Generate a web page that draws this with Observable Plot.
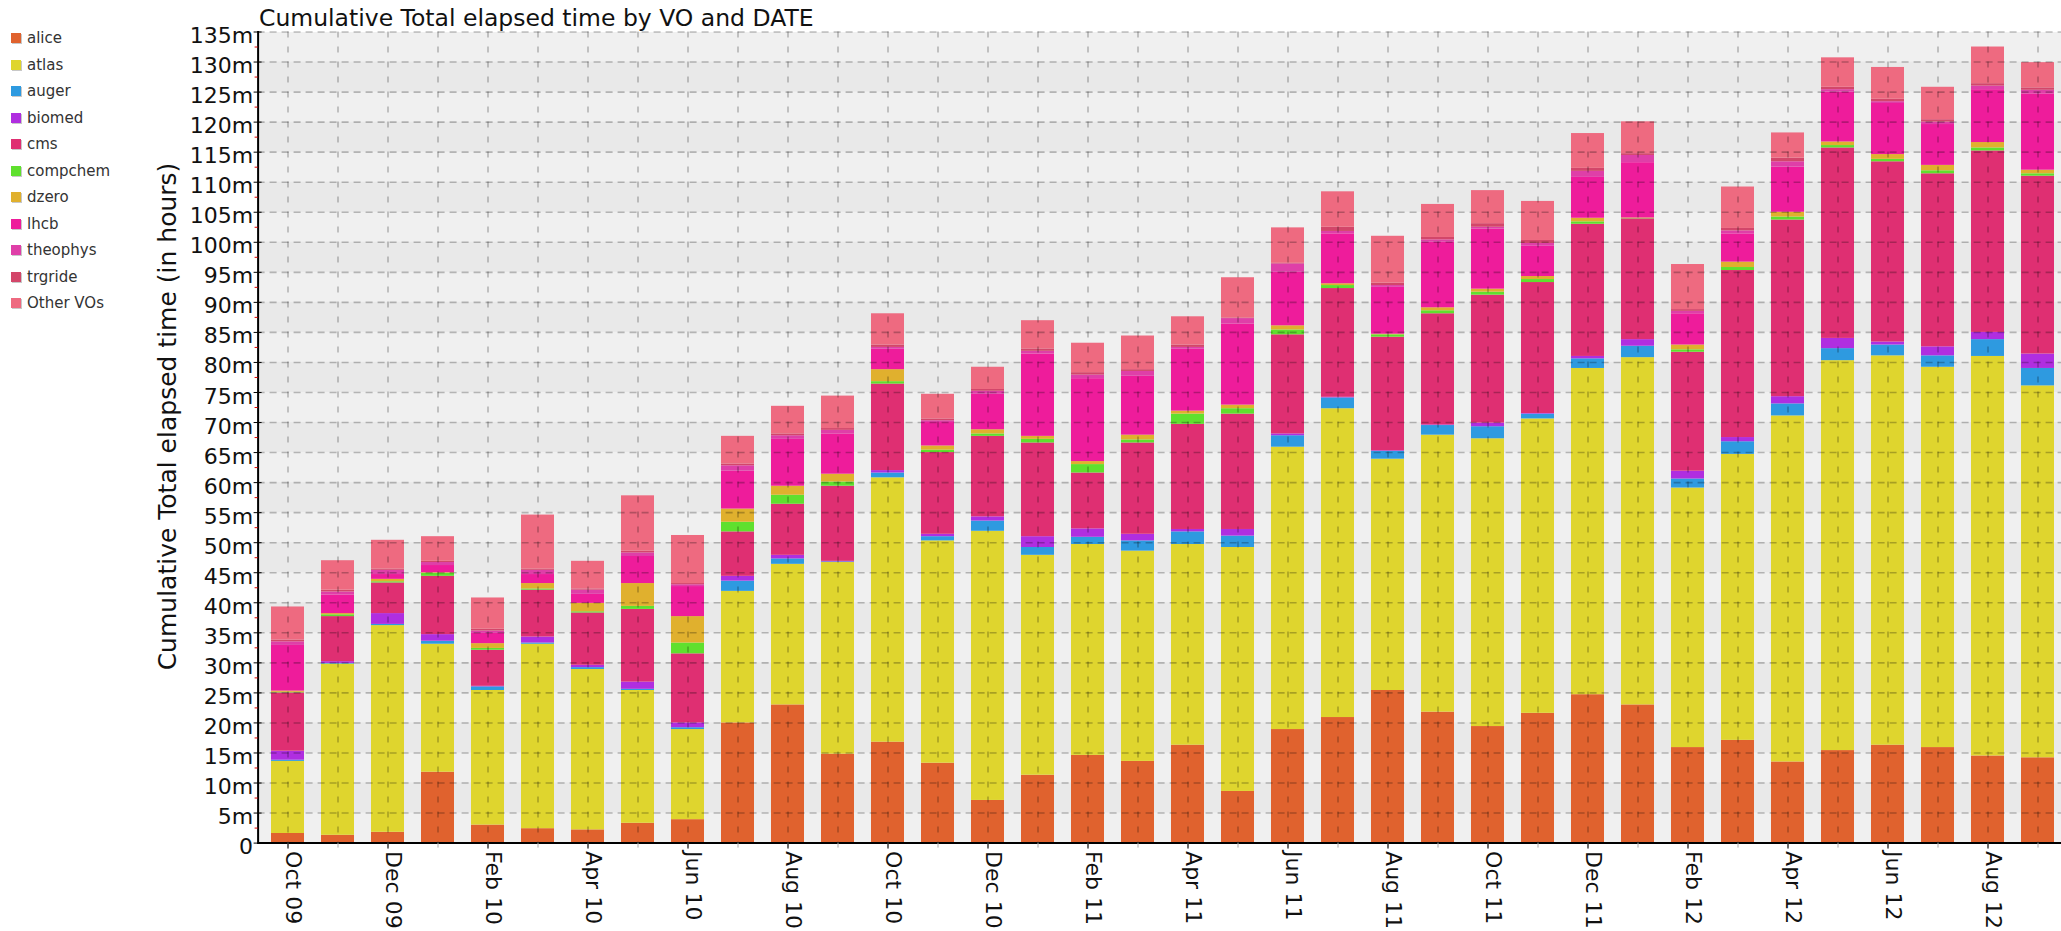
<!DOCTYPE html>
<html>
<head>
<meta charset="utf-8">
<script src="https://cdn.jsdelivr.net/npm/d3@7"></script>
<script src="https://cdn.jsdelivr.net/npm/@observablehq/plot@0.6"></script>
<style>
  html, body { margin: 0; padding: 0; background: #fff; overflow: hidden; }
  #wrap { position: relative; width: 2061px; height: 931px; font-family: "DejaVu Sans", sans-serif; color: #111; }
  #chart { position: absolute; left: 0; top: 0; }
  #chart svg { max-width: none; overflow: hidden; }
  #title { position: absolute; left: 259px; top: 7px; font-size: 23.5px; line-height: 1; white-space: nowrap; color: #111; }
  #ylabel { position: absolute; left: -133px; top: 403.5px; width: 600px; text-align: center; font-size: 25px; line-height: 25px; white-space: nowrap; transform: rotate(-90deg); color: #111; }
  #legend { position: absolute; left: 0; top: 0; }
  .item { position: absolute; left: 11px; height: 16px; display: flex; align-items: center; font-size: 15px; color: #333; white-space: nowrap; }
  .sw { width: 10px; height: 10px; margin-right: 6px; box-shadow: 1px 1px 0 #c8c8c8; }
</style>
</head>
<body>
<div id="wrap">
  <div id="chart"></div>
  <div id="title">Cumulative Total elapsed time by VO and DATE</div>
  <div id="ylabel">Cumulative Total elapsed time (in hours)</div>
  <div id="legend"></div>
</div>
<script>
// ---- data ----
const months = ["Oct 09","Nov 09","Dec 09","Jan 10","Feb 10","Mar 10","Apr 10","May 10","Jun 10","Jul 10","Aug 10","Sep 10",
  "Oct 10","Nov 10","Dec 10","Jan 11","Feb 11","Mar 11","Apr 11","May 11","Jun 11","Jul 11","Aug 11","Sep 11",
  "Oct 11","Nov 11","Dec 11","Jan 12","Feb 12","Mar 12","Apr 12","May 12","Jun 12","Jul 12","Aug 12","Sep 12"];
const labeledMonths = ["Oct 09","Dec 09","Feb 10","Apr 10","Jun 10","Aug 10","Oct 10","Dec 10","Feb 11","Apr 11",
  "Jun 11","Aug 11","Oct 11","Dec 11","Feb 12","Apr 12","Jun 12","Aug 12"];
const vos = ["alice","atlas","auger","biomed","cms","compchem","dzero","lhcb","theophys","trgride","Other VOs"];
const voColors = ["#e0622e","#dfd52e","#2e9ae0","#b02ee0","#df2f72","#5fe02e","#e0b02e","#ee1c9b","#df3fa8","#d3466a","#ee6a80"];
const yTicks = [0,5,10,15,20,25,30,35,40,45,50,55,60,65,70,75,80,85,90,95,100,105,110,115,120,125,130,135];

// values in millions of hours, per month (Oct 09 .. Sep 12)
const alice    = [1.6,1.3,1.8,11.8,3.0,2.4,2.2,3.3,3.9,20.0,23.0,14.8,16.8,13.3,7.1,11.3,14.6,13.6,16.3,8.6,18.9,20.9,25.4,21.8,19.4,21.6,24.7,23.0,15.9,17.1,13.5,15.4,16.3,15.9,14.5,14.2];
const atlas    = [12.0,28.5,34.4,21.3,22.4,30.7,26.7,22.1,15.0,21.9,23.4,31.9,44.0,37.0,44.8,36.6,35.1,35.0,33.4,40.6,47.0,51.4,38.5,46.1,47.9,49.0,54.3,57.8,43.2,47.6,57.6,64.9,64.8,63.3,66.5,61.9];
const auger    = [0.2,0.1,0.2,0.5,0.6,0.2,0.3,0.2,0.3,1.7,0.9,0.1,0.8,0.7,1.7,1.3,1.2,1.7,2.1,1.9,1.9,1.8,1.3,1.6,2.0,0.8,1.6,1.9,1.5,2.1,2.0,2.0,1.8,1.9,2.8,2.9];
const biomed   = [1.5,0.3,1.8,1.1,0.1,1.0,0.4,1.2,0.8,0.8,0.6,0.1,0.4,0.4,0.7,1.8,1.4,1.1,0.4,1.1,0.3,0.1,0.1,0.1,0.6,0.1,0.4,1.1,1.3,0.7,1.2,1.7,0.5,1.5,1.2,2.4];
const cms      = [9.7,7.5,5.1,9.7,6.0,7.8,8.7,12.1,11.5,7.4,8.5,12.5,14.4,13.6,13.4,15.6,9.3,15.2,17.5,19.2,16.5,18.1,18.9,18.5,21.3,21.8,22.0,20.1,19.8,27.8,29.4,31.7,30.0,28.8,30.2,29.6];
const compchem = [0.1,0.3,0.2,0.5,0.3,0.2,0.2,0.5,1.8,1.6,1.5,0.7,0.4,0.4,0.4,0.6,1.4,0.5,1.7,0.9,0.8,0.5,0.4,0.5,0.5,0.5,0.4,0.05,0.4,0.5,0.5,0.4,0.4,0.5,0.5,0.4];
const dzero    = [0.2,0.2,0.4,0.1,0.8,0.9,1.4,3.8,4.4,2.2,1.5,1.3,2.0,0.7,0.7,0.5,0.5,0.8,0.5,0.6,0.7,0.3,0.1,0.5,0.5,0.5,0.6,0.1,0.8,0.9,0.8,0.6,0.8,0.9,0.9,0.6];
const lhcb     = [7.6,3.1,0.8,1.2,1.7,1.5,1.5,4.5,5.0,6.3,7.8,6.7,3.4,3.9,5.9,13.7,13.8,9.8,10.3,13.5,8.9,8.3,7.8,10.9,10.0,5.1,6.8,9.2,5.2,4.7,7.5,8.3,8.5,6.8,8.8,12.7];
const theophys = [0.6,0.5,0.7,0.5,0.4,0.7,0.7,0.6,0.3,0.9,0.6,0.6,0.3,0.3,0.5,0.45,0.6,0.8,0.3,0.9,1.4,0.4,0.3,0.4,0.3,0.4,1.0,1.2,0.4,0.5,0.9,0.4,0.3,0.4,0.6,0.6];
const trgride  = [0.3,0.3,0.2,0.2,0.3,0.2,0.2,0.3,0.2,0.3,0.3,0.3,0.4,0.3,0.3,0.4,0.4,0.3,0.4,0.1,0.1,0.7,0.4,0.4,0.6,0.5,0.5,0.3,0.3,0.4,0.6,0.4,0.4,0.4,0.4,0.4];
const otherVOs = [5.5,4.9,4.8,4.1,5.2,9.0,4.6,9.2,8.0,4.6,4.6,5.4,5.2,4.1,3.7,4.7,4.9,5.6,4.7,6.7,5.9,5.9,7.8,5.5,5.5,6.5,5.8,5.3,7.5,6.9,4.2,4.9,5.3,5.4,6.1,4.2];

// ---- table built from the arrays ----
const seriesArrays = [alice, atlas, auger, biomed, cms, compchem, dzero, lhcb, theophys, trgride, otherVOs];
const rows = months.flatMap((m, i) => vos.map((v, k) => ({month: m, vo: v, value: seriesArrays[k][i]})));
const yMinor = yTicks.slice(0, -1).map(t => t + 2.5);
const darkBands = yTicks.slice(0, -1).filter((t, i) => i % 2 === 1);

const gridStyle = {stroke: "#000", strokeOpacity: 0.25, strokeWidth: 1.6};

const chart = Plot.plot({
  width: 2061,
  height: 931,
  marginLeft: 257.6,
  marginRight: 0,
  marginTop: 31.5,
  marginBottom: 88.4,
  style: {background: "transparent", fontFamily: "DejaVu Sans", overflow: "hidden", color: "#111"},
  x: {type: "band", domain: months, range: [257.6, 2068.5], paddingInner: 0.335, paddingOuter: 0.151, label: null},
  y: {domain: [0, 135], label: null},
  color: {domain: vos, range: voColors},
  marks: [
    Plot.frame({fill: "#f0f0f0", stroke: null}),
    Plot.rect(darkBands, {y1: d => d, y2: d => d + 5, fill: "#e9e9e9"}),
    Plot.barY(rows, {x: "month", y: "value", fill: "vo"}),
    Plot.ruleY(yTicks.slice(1), {...gridStyle, strokeDasharray: "7,5"}),
    Plot.ruleX(months, {x: d => d, ...gridStyle, strokeDasharray: "6,9"}),
    Plot.ruleY([0], {stroke: "#000", strokeWidth: 2}),
    Plot.frame({anchor: "left", stroke: "#000", strokeWidth: 2}),
    Plot.axisY({ticks: yTicks, tickSize: 0, tickPadding: 5, tickFormat: d => d === 0 ? "0" : d + "m", fontSize: 22, dy: 4, color: "#111"}),
    Plot.axisY({ticks: yTicks, tickSize: 8, dx: 4, tickFormat: () => "", color: "#000"}),
    Plot.axisY({ticks: yMinor, tickSize: 3, tickFormat: () => "", color: "#e00000"}),
    Plot.axisX({ticks: months, tickSize: 5, tickFormat: () => "", color: "#aaa"}),
    Plot.axisX({ticks: labeledMonths, tickSize: 6, tickFormat: () => "", color: "#000"}),
    Plot.text(labeledMonths, {x: d => d, frameAnchor: "bottom", rotate: 90, textAnchor: "start", lineAnchor: "middle", dy: 8, dx: 5, fontSize: 22, fill: "#111"})
  ]
});
document.getElementById("chart").appendChild(chart);

// ---- legend ----
const legend = document.getElementById("legend");
vos.forEach((v, k) => {
  const item = document.createElement("div");
  item.className = "item";
  item.style.top = (30 + k * 26.5) + "px";
  const sw = document.createElement("span");
  sw.className = "sw";
  sw.style.background = voColors[k];
  const label = document.createElement("span");
  label.textContent = v;
  item.appendChild(sw);
  item.appendChild(label);
  legend.appendChild(item);
});
</script>
</body>
</html>
